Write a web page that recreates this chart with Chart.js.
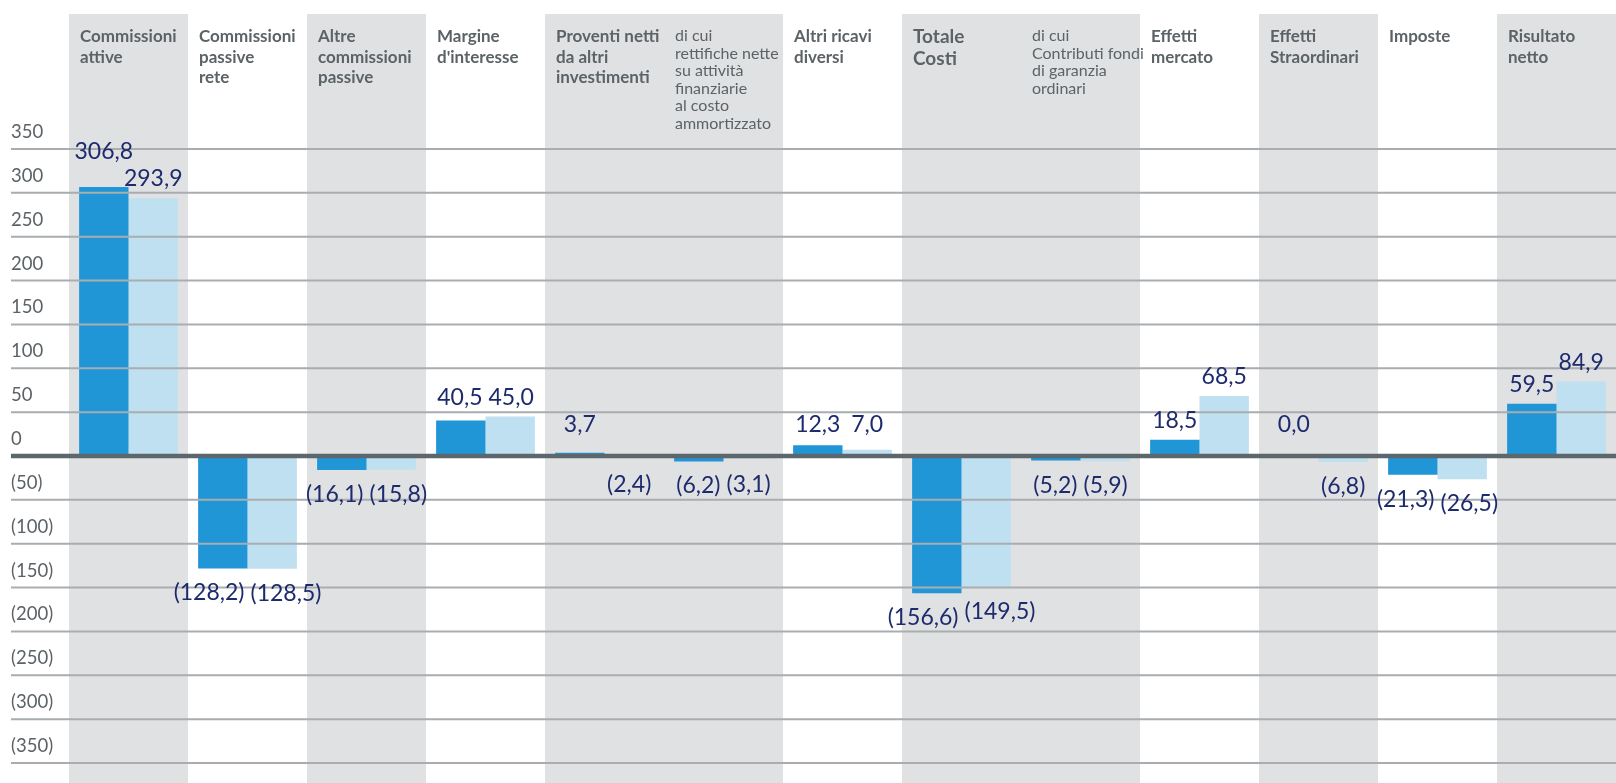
<!DOCTYPE html>
<html lang="it">
<head>
<meta charset="utf-8">
<title>Conto economico</title>
<script src="https://cdn.jsdelivr.net/npm/chart.js@4.4.1/dist/chart.umd.min.js"></script>
<style>
  html, body { margin: 0; padding: 0; background: #fff; }
  canvas { display: block; }
</style>
</head>
<body>
<canvas id="contoChart" width="1616" height="783"></canvas>
<script>
// categories (multi-line headers)
const categories = [
    ['Commissioni', 'attive'],
    ['Commissioni', 'passive', 'rete'],
    ['Altre', 'commissioni', 'passive'],
    ['Margine', 'd\'interesse'],
    ['Proventi netti', 'da altri', 'investimenti'],
    ['di cui', 'rettifiche nette', 'su attività', 'finanziarie', 'al costo', 'ammortizzato'],
    ['Altri ricavi', 'diversi'],
    ['Totale', 'Costi'],
    ['di cui', 'Contributi fondi', 'di garanzia', 'ordinari'],
    ['Effetti', 'mercato'],
    ['Effetti', 'Straordinari'],
    ['Imposte'],
    ['Risultato', 'netto']
];
const subCategories = [5, 8];      // "di cui" columns
const totalCategories = [7];       // "Totale Costi"
const shadedCategories = [0, 2, 4, 5, 7, 8, 10, 12];

const valuesDark = [306.8, -128.2, -16.1, 40.5, 3.7, -6.2, 12.3, -156.6, -5.2, 18.5, 0.0, -21.3, 59.5];
const valuesLight = [293.9, -128.5, -15.8, 45.0, -2.4, -3.1, 7.0, -149.5, -5.9, 68.5, -6.8, -26.5, 84.9];

const yTicks = [350, 300, 250, 200, 150, 100, 50, 0, -50, -100, -150, -200, -250, -300, -350];
const yTickLabels = ['350', '300', '250', '200', '150', '100', '50', '0',
    '(50)', '(100)', '(150)', '(200)', '(250)', '(300)', '(350)'];

const fmt = v => {
    const s = Math.abs(v).toFixed(1).replace('.', ',');
    return v < 0 ? '(' + s + ')' : s;
};

// grey column bands + header texts
const backdrop = {
    id: 'backdrop',
    beforeDatasetsDraw(chart) {
        const { ctx, chartArea, scales: { x }, height } = chart;
        const w = (chartArea.right - chartArea.left) / categories.length;
        ctx.save();
        ctx.fillStyle = '#e0e1e3';
        shadedCategories.forEach(i => {
            const cx = x.getPixelForValue(i);
            ctx.fillRect(cx - w / 2, 14, w, height - 14);
        });

        ctx.textAlign = 'left';
        ctx.textBaseline = 'alphabetic';
        ctx.fillStyle = '#5b6367';
        categories.forEach((lines, i) => {
            const left = x.getPixelForValue(i) - w / 2 + 11;
            let font = 'bold 17px Lato', lh = 20.5, base = 42;
            if (subCategories.includes(i)) { font = '16px Lato'; lh = 17.6; base = 41; }
            if (totalCategories.includes(i)) { font = 'bold 19px Lato'; lh = 21.5; base = 43; }
            ctx.font = font;
            lines.forEach((t, k) => ctx.fillText(t, left, base + k * lh));
        });
        ctx.restore();
    }
};

// grid lines over the bars, y labels and value labels
const overlay = {
    id: 'overlay',
    afterDatasetsDraw(chart) {
        const { ctx, scales: { y }, width } = chart;
        ctx.save();
        yTicks.forEach((v, i) => {
            const py = y.getPixelForValue(v);
            ctx.strokeStyle = v === 0 ? '#5c676d' : '#a9adb0';
            ctx.lineWidth = v === 0 ? 4.5 : 2;
            ctx.beginPath();
            ctx.moveTo(11, py);
            ctx.lineTo(width, py);
            ctx.stroke();
            ctx.fillStyle = '#5b6367';
            ctx.font = '18.5px Lato';
            ctx.textAlign = 'left';
            ctx.fillText(yTickLabels[i], 11, py - 11);
        });

        const zeroY = y.getPixelForValue(0);
        ctx.font = '23px Lato';
        ctx.fillStyle = '#1d2a6b';
        ctx.textAlign = 'center';
        ctx.textBaseline = 'alphabetic';
        for (let i = 0; i < categories.length; i++) {
            const items = [0, 1].map(d => {
                const v = chart.data.datasets[d].data[i];
                const el = chart.getDatasetMeta(d).data[i];
                const pos = v >= 0;
                const base = pos ? Math.min(el.y - 12, zeroY - 24) : Math.max(el.y + 14, zeroY + 18) + 18;
                const text = fmt(v);
                return { text, x: el.x, base, pos, w: ctx.measureText(text).width };
            });
            const [a, b] = items;
            const need = a.w / 2 + b.w / 2 + 6 - (b.x - a.x);
            const diff = Math.abs(a.base - b.base);
            if (a.pos === b.pos && need > 0) {
                if (a.pos && diff < 8) {
                    const m = Math.min(a.base, b.base);
                    a.base = b.base = m;
                    a.x -= need / 2; b.x += need / 2;
                } else if (a.pos && diff < 20) {
                    const [hi, lo] = a.base < b.base ? [a, b] : [b, a];
                    hi.base = lo.base - 27;
                } else if (!a.pos) {
                    a.x -= need / 2; b.x += need / 2;
                }
            }
            items.forEach(it => ctx.fillText(it.text, it.x, it.base));
        }
        ctx.restore();
    }
};

document.addEventListener('DOMContentLoaded', () => {
    const ctx = document.getElementById('contoChart');
    new Chart(ctx, {
        type: 'bar',
        data: {
            labels: categories,
            datasets: [{
                label: 'Anno corrente',
                data: valuesDark,
                backgroundColor: '#2196d7',
                borderWidth: 0,
                categoryPercentage: 0.83,
                barPercentage: 1.0
            }, {
                label: 'Anno precedente',
                data: valuesLight,
                backgroundColor: '#bfe0f1',
                borderWidth: 0,
                categoryPercentage: 0.83,
                barPercentage: 1.0
            }]
        },
        options: {
            responsive: false,
            animation: false,
            layout: { padding: { left: 69, right: 0, top: 149, bottom: 20 } },
            scales: {
                x: { display: false },
                y: { display: false, min: -350, max: 350 }
            },
            plugins: {
                legend: { display: false },
                tooltip: { enabled: false }
            }
        },
        plugins: [backdrop, overlay]
    });
});
</script>
</body>
</html>
